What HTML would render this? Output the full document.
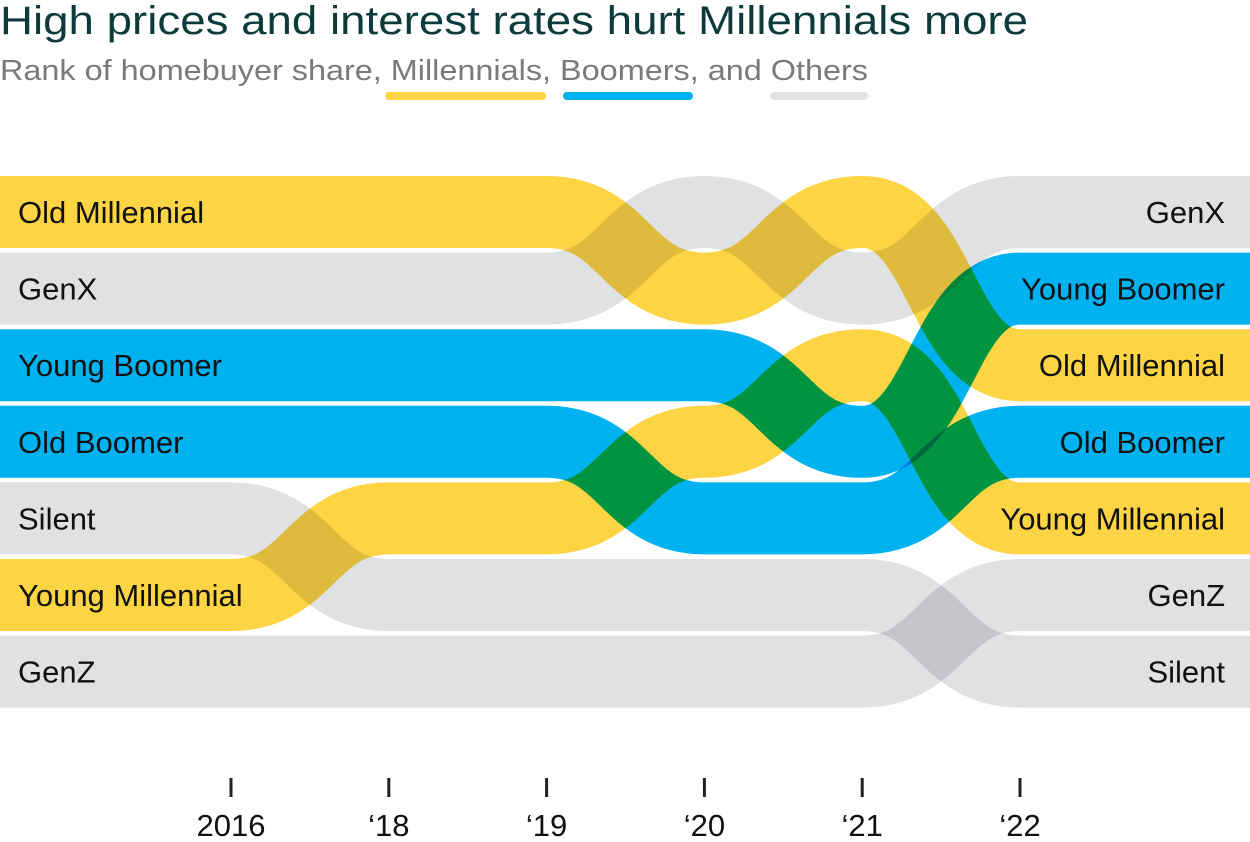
<!DOCTYPE html>
<html><head><meta charset="utf-8">
<style>
html,body{margin:0;padding:0;background:#fff;}
svg{display:block;font-family:"Liberation Sans Narrow","Liberation Sans",sans-serif;}
.band{mix-blend-mode:multiply;fill:none;}
</style></head>
<body>
<svg id="chart" width="1250" height="842" viewBox="0 0 1250 842">
<text x="0" y="34" font-size="40" fill="#0d3b3c" textLength="1028" lengthAdjust="spacingAndGlyphs">High prices and interest rates hurt Millennials more</text>
<text x="0" y="80" font-size="29" fill="#7a7a7a" textLength="868" lengthAdjust="spacingAndGlyphs">Rank of homebuyer share, Millennials, Boomers, and Others</text>
<rect x="385" y="92" width="161" height="8" rx="4" fill="#fdd444"/>
<rect x="563" y="92" width="130" height="8" rx="4" fill="#00b2f0"/>
<rect x="770" y="92" width="98" height="8" rx="4" fill="#e0e1e3"/>
<g id="bands"></g>
<g id="labels"></g>
<g id="axis"></g>
</svg>
<script>
const years = ["2016","'18","'19","'20","'21","'22"];
const groups = ["Old Millennial","GenX","Young Boomer","Old Boomer","Silent","Young Millennial","GenZ"];
const kinds = ["mill","other","boom","boom","other","mill","other"];
const rankOldMill = [1,1,1,2,1,3];
const rankGenX = [2,2,2,1,2,1];
const rankYoungBoomer = [3,3,3,3,4,2];
const rankOldBoomer = [4,4,4,5,5,4];
const rankSilent = [5,6,6,6,6,7];
const rankYoungMill = [6,5,5,4,3,5];
const rankGenZ = [7,7,7,7,7,6];
const ranks = [rankOldMill,rankGenX,rankYoungBoomer,rankOldBoomer,rankSilent,rankYoungMill,rankGenZ];

const colors = {mill:"#fdd444", boom:"#00b2f0", other:"#e0e1e3"};
const x = i => 231 + i*157.8;
const y = r => 212 + (r-1)*76.6;
const NS = "http://www.w3.org/2000/svg";
const bandsG = document.getElementById('bands');
const labelsG = document.getElementById('labels');
const axisG = document.getElementById('axis');

groups.forEach((g,gi)=>{
  const r = ranks[gi];
  let d = `M0,${y(r[0])} L${x(0)},${y(r[0])}`;
  for(let i=1;i<r.length;i++){
    const x0=x(i-1), x1=x(i), xm=(x0+x1)/2;
    d += ` C${xm},${y(r[i-1])} ${xm},${y(r[i])} ${x1},${y(r[i])}`;
  }
  d += ` L1250,${y(r[r.length-1])}`;
  const p = document.createElementNS(NS,'path');
  p.setAttribute('d',d);
  p.setAttribute('class','band');
  p.setAttribute('stroke',colors[kinds[gi]]);
  p.setAttribute('stroke-width','72');
  
  
  bandsG.appendChild(p);

  const tl = document.createElementNS(NS,'text');
  tl.setAttribute('x',18); tl.setAttribute('y',y(r[0])+11);
  tl.setAttribute('font-size','31'); tl.setAttribute('fill','#111');
  tl.textContent = g;
  
  
  labelsG.appendChild(tl);

  const tr = document.createElementNS(NS,'text');
  tr.setAttribute('x',1225); tr.setAttribute('y',y(r[r.length-1])+11);
  tr.setAttribute('font-size','31'); tr.setAttribute('fill','#111');
  tr.setAttribute('text-anchor','end');
  tr.textContent = g;
  
  
  labelsG.appendChild(tr);
});

years.forEach((yr,i)=>{
  const t = document.createElementNS(NS,'rect');
  t.setAttribute('x',x(i)-1.5); t.setAttribute('y',778);
  t.setAttribute('width',3); t.setAttribute('height',19); t.setAttribute('fill','#222');
  
  
  axisG.appendChild(t);
  const l = document.createElementNS(NS,'text');
  l.setAttribute('x',x(i)); l.setAttribute('y',836);
  l.setAttribute('font-size','31'); l.setAttribute('fill','#111');
  l.setAttribute('text-anchor','middle');
  l.textContent = yr.replace("'","\u2018");
  
  
  axisG.appendChild(l);
});
</script>
</body></html>
